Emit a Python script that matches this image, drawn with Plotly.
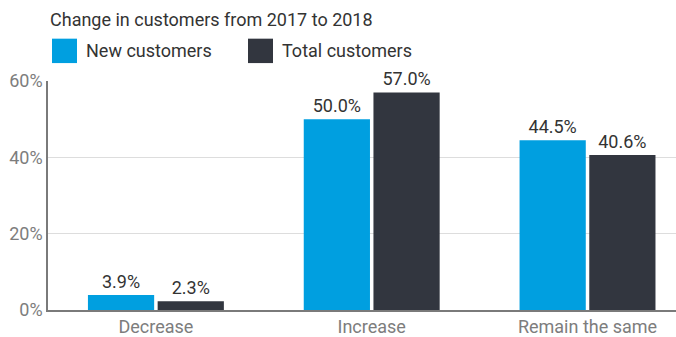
import plotly.graph_objects as go

categories = ["Decrease", "Increase", "Remain the same"]
new_customers = [3.9, 50.0, 44.5]
total_customers = [2.3, 57.0, 40.6]
series_names = ["New customers", "Total customers"]
series_colors = ["#009fe0", "#32363f"]
y_ticks = [0, 20, 40, 60]
title_text = "Change in customers from 2017 to 2018"

FONT = "Roboto"

fig = go.Figure()
for name, vals, color in zip(series_names, [new_customers, total_customers], series_colors):
    fig.add_trace(go.Bar(
        x=categories, y=vals, name=name, marker_color=color,
        marker_line_width=0,
        text=[f"{v:.1f}%" for v in vals], textposition="outside",
        textfont=dict(family=FONT, size=18, color="#333333"),
        cliponaxis=False, showlegend=False,
    ))

# Custom legend: large square swatches with labels
legend_x = [52, 248]
for i, (name, color) in enumerate(zip(series_names, series_colors)):
    fig.add_shape(type="rect", xref="paper", yref="paper",
                  x0=(legend_x[i] - 48) / 628, x1=(legend_x[i] + 25 - 48) / 628,
                  y0=(313.3 - 62.5) / 232.6, y1=(313.3 - 37.7) / 232.6,
                  fillcolor=color, line_width=0)
    fig.add_annotation(xref="paper", yref="paper",
                       x=(legend_x[i] + 32 - 48) / 628, y=(313.3 - 50) / 232.6,
                       text=name, showarrow=False, xanchor="left", yanchor="middle",
                       font=dict(family=FONT, size=18, color="#333333"))

fig.add_annotation(xref="paper", yref="paper", x=(48 - 48) / 628, y=(313.3 - 18) / 232.6,
                   text=title_text, showarrow=False, xanchor="left", yanchor="middle",
                   font=dict(family=FONT, size=18, color="#333333"))

fig.update_layout(
    width=676, height=337,
    margin=dict(l=48, r=0, t=81, b=23, pad=0),
    paper_bgcolor="white", plot_bgcolor="white",
    barmode="group", bargap=0.354, bargroupgap=0.05,
    font=dict(family=FONT),
)
fig.update_xaxes(range=[-0.5, 2.41], showline=True, linecolor="#7a7a7a", linewidth=1.5,
                 ticks="", tickfont=dict(family=FONT, size=18, color="#7d7d7d"),
                 showgrid=False)
fig.update_yaxes(range=[0, 60], tickvals=y_ticks, ticktext=[f"{t}%" for t in y_ticks],
                 showline=True, linecolor="#7a7a7a", linewidth=1.5,
                 gridcolor="#dddddd", gridwidth=1, zeroline=False,
                 tickfont=dict(family=FONT, size=18, color="#7d7d7d"), ticks="")

fig.write_html("out.html")
